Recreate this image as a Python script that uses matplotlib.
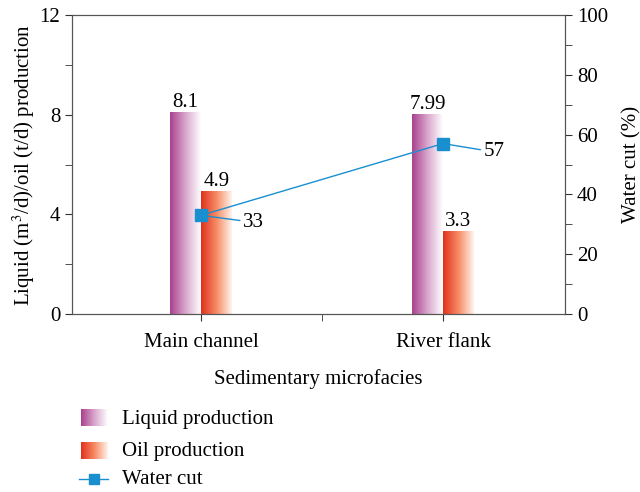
import numpy as np
import matplotlib
matplotlib.use("Agg")
import matplotlib.pyplot as plt
from matplotlib.colors import LinearSegmentedColormap
from matplotlib.ticker import MultipleLocator

plt.rcParams['font.family'] = ['Liberation Serif', 'DejaVu Serif']
plt.rcParams['mathtext.fontset'] = 'stix'

categories = ["Main channel", "River flank"]
liquid = [8.1, 7.99]
oil = [4.9, 3.3]
water_cut = [33, 57]
liquid_labels = ["8.1", "7.99"]
oil_labels = ["4.9", "3.3"]

liquid_cmap = LinearSegmentedColormap.from_list("liq", ["#a8418d", "#d9a6cc", "#ffffff"])
oil_cmap = LinearSegmentedColormap.from_list("oil", ["#e0301e", "#f78b63", "#fff4ee"])
line_color = "#1a8fd0"
grad = np.linspace(0, 1, 256).reshape(1, -1)
FS = 15

fig = plt.figure(figsize=(6.4, 4.92), dpi=100)
ax = fig.add_axes([0.1125, 0.3618, 0.7703, 0.6077])
ax2 = ax.twinx()

x = np.arange(len(categories))
width = 0.128


def gradient_bars(axis, xs, heights, cmap):
    bars = axis.bar(xs, heights, width, color="none", edgecolor="none")
    for b in bars:
        x0, y0 = b.get_x(), b.get_y()
        axis.imshow(grad, cmap=cmap, aspect="auto", zorder=2,
                    extent=[x0, x0 + b.get_width(), y0, y0 + b.get_height()])
    return bars


gradient_bars(ax, x - width / 2, liquid, liquid_cmap)
gradient_bars(ax, x + width / 2, oil, oil_cmap)
for i in range(len(categories)):
    ax.text(x[i] - width / 2, liquid[i] + 0.02, liquid_labels[i], ha="center", va="bottom", fontsize=FS)
    ax.text(x[i] + width / 2, oil[i] + 0.02, oil_labels[i], ha="center", va="bottom", fontsize=FS)

ax.set_xlim(-0.533, 1.504)
ax.set_ylim(0, 12)
ax.yaxis.set_major_locator(MultipleLocator(4))
ax.yaxis.set_minor_locator(MultipleLocator(2))
ax.set_xticks(x)
ax.set_xticks([0.5], minor=True)
ax.set_xticklabels(categories, fontsize=FS)
ax.tick_params(axis="y", which="both", labelsize=FS, length=5, color="#333")
ax.tick_params(axis="x", which="both", length=5, color="#333", pad=9)
ax.set_xlabel("Sedimentary microfacies", fontsize=FS, labelpad=12)
ax.set_ylabel("Liquid (m$^3$/d)/oil (t/d) production", fontsize=FS, labelpad=2)

ax2.plot(x, water_cut, color=line_color, lw=1, marker="s", ms=8.5, zorder=5)
ax2.set_ylim(0, 100)
ax2.yaxis.set_major_locator(MultipleLocator(20))
ax2.yaxis.set_minor_locator(MultipleLocator(10))
ax2.tick_params(axis="y", which="both", labelsize=FS, length=5, color="#333")
ax2.set_ylabel("Water cut (%)", fontsize=FS, labelpad=10)
offsets = [(30, -5), (29, -6)]
for i in range(len(categories)):
    ax2.annotate(str(water_cut[i]), xy=(x[i], water_cut[i]), xytext=offsets[i],
                 textcoords="offset points", fontsize=FS, va="center", ha="left",
                 arrowprops=dict(arrowstyle="-", color=line_color, lw=1, shrinkA=0, shrinkB=1))

for a in (ax, ax2):
    for s in a.spines.values():
        s.set_color("#555")

# legend drawn in its own axes below the chart
lax = fig.add_axes([0, 0, 1, 0.2])
lax.axis("off")
lax.imshow(grad, cmap=liquid_cmap, aspect="auto", extent=[81, 108, 32, 16])
lax.imshow(grad, cmap=oil_cmap, aspect="auto", extent=[81, 108, 65, 49])
lax.plot([79, 108], [85, 85], color=line_color, lw=1)
lax.plot([94], [85], color=line_color, marker="s", ms=7)
lax.set_xlim(0, 640)
lax.set_ylim(98, 0)
for yy, t in zip([26, 58, 86], ["Liquid production", "Oil production", "Water cut"]):
    lax.text(122, yy, t, fontsize=FS, va="center", ha="left")

fig.savefig("out.png", dpi=100)
